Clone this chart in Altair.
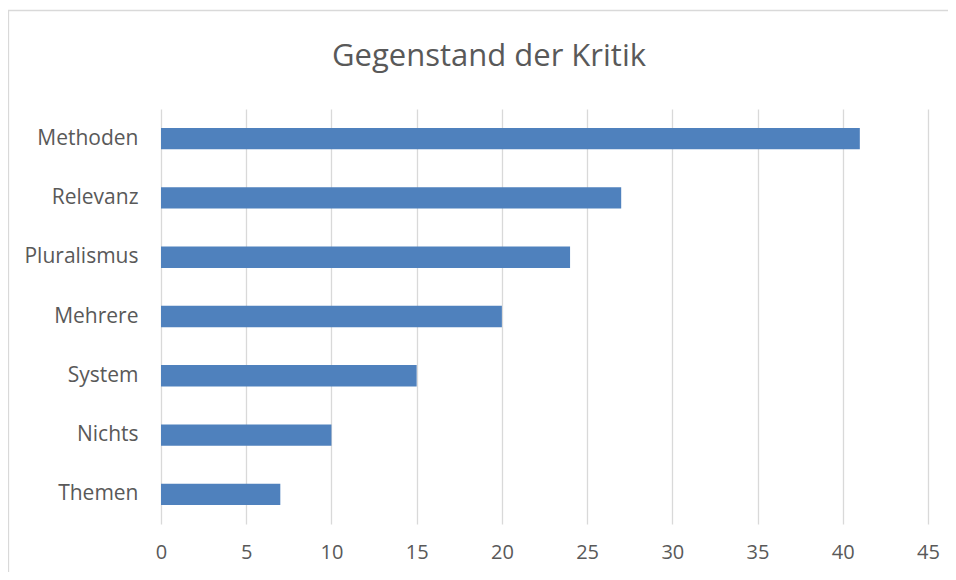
import altair as alt
import pandas as pd

categories = ["Methoden", "Relevanz", "Pluralismus", "Mehrere", "System", "Nichts", "Themen"]
values = [41, 27, 24, 20, 15, 10, 7]
x_ticks = [0, 5, 10, 15, 20, 25, 30, 35, 40, 45]
title_text = "Gegenstand der Kritik"

df = pd.DataFrame({"Kategorie": categories, "Anzahl": values})

FONT = "Open Sans"
GREY = "#595959"

bars = alt.Chart(df).mark_bar(color="#4F81BD").encode(
    x=alt.X(
        "Anzahl:Q",
        scale=alt.Scale(domain=[0, 45], nice=False),
        axis=alt.Axis(
            values=x_ticks,
            title=None,
            grid=True,
            gridColor="#D9D9D9",
            gridWidth=1.3,
            domain=False,
            ticks=False,
            labelFlush=False,
            labelPadding=18,
            labelFontSize=20,
            labelColor=GREY,
            labelFont=FONT,
        ),
    ),
    y=alt.Y(
        "Kategorie:N",
        sort=categories,
        scale=alt.Scale(paddingInner=0.64, paddingOuter=0.32),
        axis=alt.Axis(
            title=None,
            domain=False,
            ticks=False,
            grid=False,
            labelPadding=23,
            labelFontSize=21,
            labelColor=GREY,
            labelFont=FONT,
        ),
    ),
)

frame_df = pd.DataFrame({"b": [0]})
border_top = alt.Chart(frame_df).mark_rule(color="#D9D9D9", strokeWidth=1.3).encode(
    x=alt.value(-153),
    x2=alt.value(800),
    y=alt.value(-98.5),
)
border_left = alt.Chart(frame_df).mark_rule(color="#D9D9D9", strokeWidth=1.3).encode(
    x=alt.value(-152.5),
    y=alt.value(-99),
    y2=alt.value(700),
)

title = alt.Chart(pd.DataFrame({"t": [title_text]})).mark_text(
    font=FONT, fontSize=31, color=GREY, align="center", baseline="alphabetic"
).encode(
    text="t:N",
    x=alt.value(328),
    y=alt.value(-43),
)

chart = (
    alt.layer(border_top, border_left, bars, title)
    .properties(
        width=767,
        height=415,
        autosize=alt.AutoSizeParams(type="none"),
        padding={"left": 153, "top": 101, "right": 20, "bottom": 48},
        background="white",
    )
    .configure_view(stroke=None, strokeWidth=0)
)

chart.save("out.html", embed_options={"renderer": "svg", "actions": False})
